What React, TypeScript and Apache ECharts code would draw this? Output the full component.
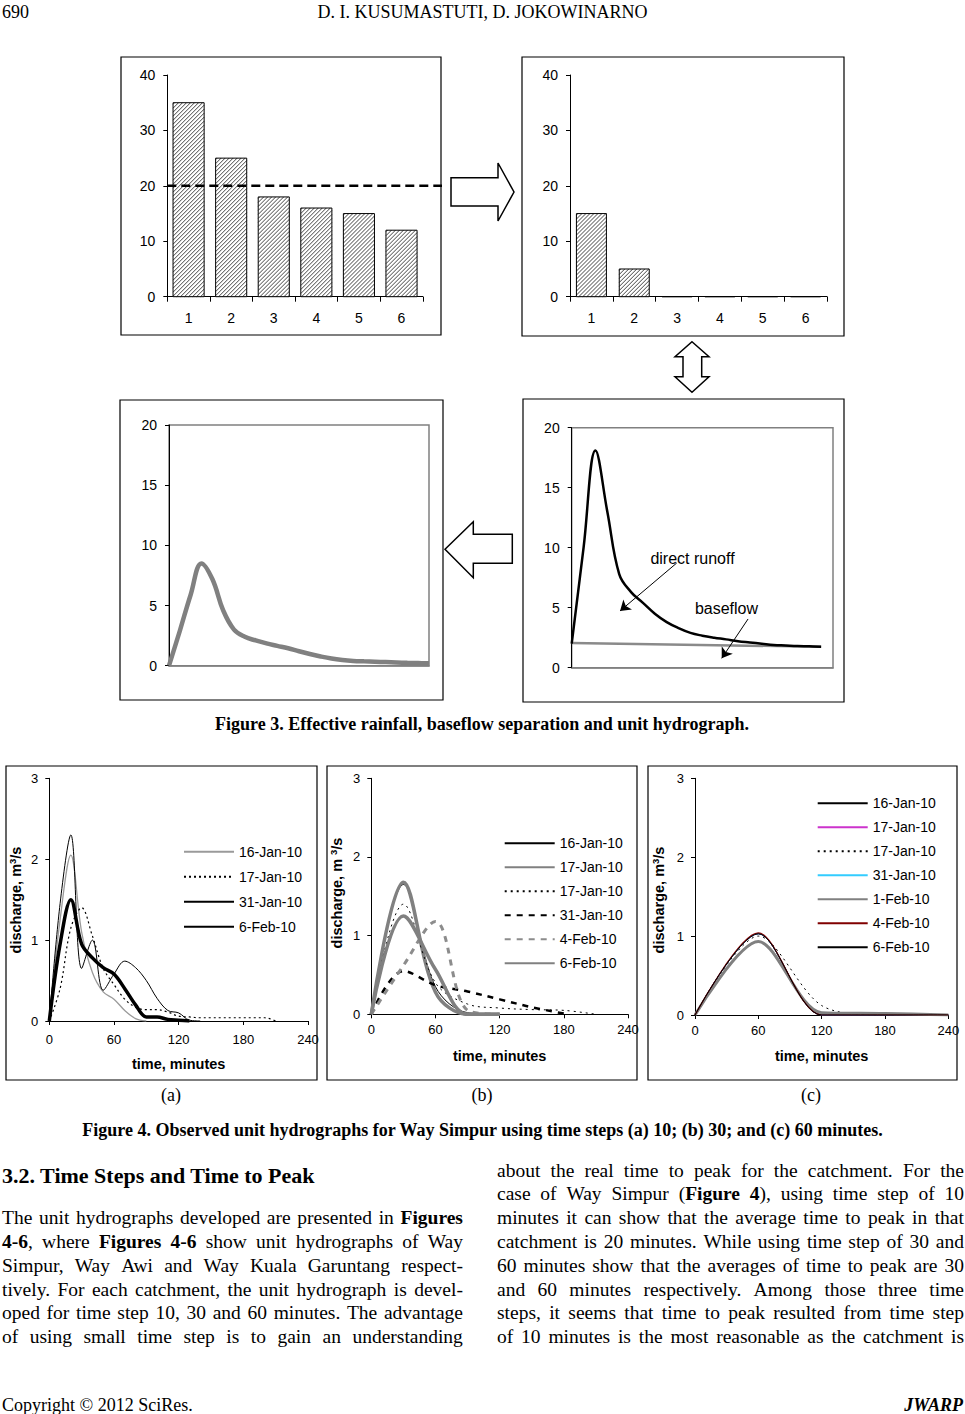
import React, { useEffect, useRef } from "react";
import * as echarts from "echarts";

// ---------------- Figure 3 data ----------------
const rainCategories = ["1", "2", "3", "4", "5", "6"];
const rainfall = [35, 25, 18, 16, 15, 12];
const phiIndexLevel = 20;
const phiIndexSpan = [0, 1];
const effectiveRainfall = [15, 5, 0, 0, 0, 0];

const uhTime = [0, 1, 2, 3, 4, 5, 6, 7, 8, 9, 10, 11, 12, 13, 14, 15, 16, 17, 18, 19, 20, 21, 22, 23, 24];
const uhOrdinates = [0, 2.9, 5.9, 8.5, 7.2, 4.6, 3.0, 2.4, 2.1, 1.85, 1.65, 1.45, 1.2, 0.97, 0.77, 0.6, 0.48, 0.4, 0.36, 0.33, 0.3, 0.27, 0.24, 0.22, 0.2];

const hydroTime = [0, 1, 2, 3, 4, 5, 6, 7, 8, 9, 10, 11, 12, 13, 14, 15, 16, 17, 18, 19, 20, 21];
const totalFlow = [2.0, 10.0, 18.1, 13.0, 7.8, 6.3, 5.4, 4.5, 3.8, 3.3, 2.9, 2.67, 2.5, 2.36, 2.2, 2.1, 2.0, 1.9, 1.85, 1.8, 1.78, 1.75];
const baseflowTime = [0, 21];
const baseflowValues = [2.05, 1.75];

const runoffArrow = [[8.84, 8.72], [4.07, 4.73]];
const baseflowArrow = [[14.85, 4.06], [12.63, 0.78]];
const annotationLabels = ["direct runoff", "baseflow"];

// ---------------- Figure 4 data ----------------
const timeTicks = [0, 60, 120, 180, 240];

const timeA = [0, 10, 20, 30, 40, 50, 60, 70, 80, 90, 100, 110, 120, 130, 140, 150, 160, 170, 180, 190, 200, 210];
const namesA = ["16-Jan-10", "17-Jan-10", "31-Jan-10", "6-Feb-10"];
const a16Jan = [0, 1.25, 2.05, 1.1, 0.6, 0.36, 0.27, 0.13, 0.03, 0];
const a17Jan = [0, 0.4, 1.15, 1.4, 1.05, 0.65, 0.45, 0.27, 0.17, 0.14, 0.14, 0.11, 0.06, 0.05, 0.04, 0.04, 0.04, 0.04, 0.04, 0.04, 0.04, 0];
const a31Jan = [0, 1.45, 2.3, 0.65, 1.0, 0.38, 0.58, 0.74, 0.66, 0.5, 0.28, 0.13, 0.1, 0.01, 0];
const a6Feb = [0, 0.95, 1.5, 0.95, 0.78, 0.66, 0.58, 0.4, 0.2, 0.05, 0.05, 0.02, 0.01, 0];

const timeB = [0, 30, 60, 90, 120, 150, 180, 210];
const namesB = ["16-Jan-10", "17-Jan-10", "17-Jan-10", "31-Jan-10", "4-Feb-10", "6-Feb-10"];
const b16Jan = [0, 1.65, 0.35, 0.02, 0];
const b17JanA = [0, 1.68, 0.28, 0, 0];
const b17JanB = [0, 1.4, 0.4, 0.13, 0.08, 0.06, 0.05, 0];
const b31Jan = [0, 0.55, 0.37, 0.29, 0.19, 0.09, 0.01];
const b4Feb = [0, 0.62, 1.18, 0.05, 0];
const b6Feb = [0, 1.25, 0.57, 0, 0];

const timeC = [0, 60, 120, 180, 240];
const namesC = ["16-Jan-10", "17-Jan-10", "17-Jan-10", "31-Jan-10", "1-Feb-10", "4-Feb-10", "6-Feb-10"];
const c16Jan = [0, 1.03, 0, 0, 0];
const c17JanA = [0, 1.03, 0, 0, 0];
const c17JanB = [0, 1.0, 0.12, 0, 0];
const c31Jan = [0, 1.03, 0, 0, 0];
const c1Feb = [0, 0.93, 0.03, 0.02, 0];
const c4Feb = [0, 1.04, 0, 0, 0];
const c6Feb = [0, 1.03, 0, 0, 0];

// ---------------- styles ----------------
const FF = "Arial, 'Liberation Sans', Helvetica, sans-serif";
const SERIF = "'Liberation Serif', 'Times New Roman', Times, serif";

const stylesA = [
  { color: "#9a9a9a", width: 1.3, type: "solid" },
  { color: "#000000", width: 1.2, type: [2, 3] },
  { color: "#000000", width: 1, type: "solid" },
  { color: "#000000", width: 3.5, type: "solid" },
];
const stylesB = [
  { color: "#000000", width: 1, type: "solid" },
  { color: "#808080", width: 3.5, type: "solid" },
  { color: "#000000", width: 1, type: [2, 4] },
  { color: "#000000", width: 2.5, type: [6, 6] },
  { color: "#8c8c8c", width: 3, type: [6, 6] },
  { color: "#808080", width: 3.5, type: "solid" },
];
const stylesC = [
  { color: "#000000", width: 1, type: "solid" },
  { color: "#cc33cc", width: 1, type: "solid" },
  { color: "#000000", width: 1, type: [2, 4] },
  { color: "#33ccff", width: 1, type: "solid" },
  { color: "#808080", width: 3, type: "solid" },
  { color: "#800000", width: 1.2, type: "solid" },
  { color: "#000000", width: 1, type: "solid" },
];

const pairs = (xs: any[], ys: number[]) => ys.map((v, i) => [xs[i], v]);

// hatched ("////") bar drawn through the axis scales
function hatchBarRenderer(widthRatio: number) {
  return (params: any, api: any) => {
    const cat = api.value(0);
    const val = api.value(1);
    const topPt = api.coord([cat, val]);
    const basePt = api.coord([cat, 0]);
    const band = api.size([1, 0])[0];
    const bw = band * widthRatio;
    const x0 = topPt[0] - bw / 2;
    const x1 = x0 + bw;
    const y0 = Math.min(topPt[1], basePt[1]);
    const y1 = Math.max(topPt[1], basePt[1]);
    const children: any[] = [
      { type: "rect", shape: { x: x0, y: y0, width: bw, height: y1 - y0 }, style: { fill: "#fff" } },
    ];
    const step = 4;
    for (let c = x0 + y0 + 1.5; c < x1 + y1; c += step) {
      const xa = Math.max(x0, c - y1);
      const xb = Math.min(x1, c - y0);
      if (xb - xa > 0.3) {
        children.push({
          type: "line",
          shape: { x1: xa, y1: c - xa, x2: xb, y2: c - xb },
          style: { stroke: "#444444", lineWidth: 1 },
        });
      }
    }
    children.push({
      type: "rect",
      shape: { x: x0, y: y0, width: bw, height: y1 - y0 },
      style: { fill: "none", stroke: "#000", lineWidth: 1 },
    });
    return { type: "group", children };
  };
}

function buildOption() {
  const blackLine = { show: true, lineStyle: { color: "#000", width: 1 } };
  const grayLine = { show: true, lineStyle: { color: "#808080", width: 1.5 } };
  const lbl14 = { fontSize: 14, color: "#000", fontFamily: FF };
  const lbl13 = { fontSize: 13, color: "#000", fontFamily: FF };

  const gridBase = { containLabel: false, outerBoundsMode: "none" };
  const grid = [
    { ...gridBase, left: 167.3, top: 75, width: 255.5, height: 221.7 },
    { ...gridBase, left: 167.3, top: 75, width: 274.7, height: 221.7 },
    { ...gridBase, left: 570, top: 75, width: 257, height: 221.7 },
    { ...gridBase, left: 169, top: 425, width: 260, height: 240.7, show: true, borderColor: "#808080", borderWidth: 1.5, backgroundColor: "transparent" },
    { ...gridBase, left: 571.7, top: 427.7, width: 261.3, height: 240, show: true, borderColor: "#808080", borderWidth: 1.5, backgroundColor: "transparent" },
    { ...gridBase, left: 49.3, top: 778.3, width: 258.7, height: 242.7 },
    { ...gridBase, left: 371.3, top: 778.3, width: 256.7, height: 236 },
    { ...gridBase, left: 695, top: 778.3, width: 253.3, height: 236.7 },
  ];

  const catX = (gi: number) => ({
    type: "category",
    gridIndex: gi,
    data: rainCategories,
    boundaryGap: true,
    axisLine: blackLine,
    axisTick: { show: true, alignWithLabel: false, interval: 0, length: 5, inside: false, lineStyle: { color: "#000" } },
    axisLabel: { ...lbl14, margin: 14, interval: 0 },
    splitLine: { show: false },
  });
  const fig3Y = (gi: number, max: number, interval: number) => ({
    type: "value",
    gridIndex: gi,
    min: 0,
    max,
    interval,
    axisLine: blackLine,
    axisTick: { show: true, length: 4, inside: false, lineStyle: { color: "#000" } },
    axisLabel: { ...lbl14, margin: 12 },
    splitLine: { show: false },
  });
  const hiddenX = (gi: number, max: number) => ({
    type: "value",
    gridIndex: gi,
    min: 0,
    max,
    axisLine: grayLine,
    axisTick: { show: false },
    axisLabel: { show: false },
    splitLine: { show: false },
  });
  const fig4X = (gi: number, gap: number, margin: number) => ({
    type: "value",
    gridIndex: gi,
    min: timeTicks[0],
    max: timeTicks[timeTicks.length - 1],
    interval: 60,
    axisLine: blackLine,
    axisTick: { show: true, length: 4, inside: false, lineStyle: { color: "#000" } },
    axisLabel: { ...lbl13, margin },
    splitLine: { show: false },
    name: "time, minutes",
    nameLocation: "middle",
    nameGap: gap,
    nameTextStyle: { fontSize: 14.5, fontWeight: "bold", color: "#000", fontFamily: FF },
  });
  const fig4Y = (gi: number) => ({
    type: "value",
    gridIndex: gi,
    min: 0,
    max: 3,
    interval: 1,
    axisLine: blackLine,
    axisTick: { show: true, length: 4, inside: false, lineStyle: { color: "#000" } },
    axisLabel: { ...lbl13, margin: 11 },
    splitLine: { show: false },
  });

  const xAxis = [
    catX(0),
    { type: "value", gridIndex: 1, min: 0, max: 1, show: false },
    catX(2),
    hiddenX(3, 24),
    hiddenX(4, 22),
    fig4X(5, 35, 12),
    fig4X(6, 34, 9),
    fig4X(7, 33, 9),
  ];
  const yAxis = [
    fig3Y(0, 40, 10),
    { type: "value", gridIndex: 1, min: 0, max: 40, show: false },
    fig3Y(2, 40, 10),
    fig3Y(3, 20, 5),
    fig3Y(4, 20, 5),
    fig4Y(5),
    fig4Y(6),
    fig4Y(7),
  ];

  const lineSeries = (id: string, name: string, ai: number, xs: number[], ys: number[], st: any, smooth = 0.35) => ({
    type: "line",
    id,
    name,
    xAxisIndex: ai,
    yAxisIndex: ai,
    data: pairs(xs, ys),
    smooth,
    symbol: "none",
    showSymbol: false,
    lineStyle: { color: st.color, width: st.width, type: st.type },
    itemStyle: { color: st.color },
    emphasis: { disabled: true },
    silent: true,
  });

  const aData = [a16Jan, a17Jan, a31Jan, a6Feb];
  const bData = [b16Jan, b17JanA, b17JanB, b31Jan, b4Feb, b6Feb];
  const cData = [c16Jan, c17JanA, c17JanB, c31Jan, c1Feb, c4Feb, c6Feb];

  const aSeries = aData.map((d, i) => lineSeries("a" + i, "a" + i + "::" + namesA[i], 5, timeA, d, stylesA[i]));
  const bSeries = bData.map((d, i) => lineSeries("b" + i, "b" + i + "::" + namesB[i], 6, timeB, d, stylesB[i]));
  const cSeries = cData.map((d, i) => lineSeries("c" + i, "c" + i + "::" + namesC[i], 7, timeC, d, stylesC[i], 0.3));

  const legendBase = {
    orient: "vertical",
    padding: 0,
    itemWidth: 50,
    itemHeight: 14,
    selectedMode: false,
    itemStyle: { opacity: 0, borderWidth: 0 },
    formatter: (n: string) => n.split("::")[1],
    textStyle: { fontSize: 14, color: "#000", fontFamily: FF },
  };

  const series: any[] = [
    {
      type: "custom",
      name: "rainfall",
      xAxisIndex: 0,
      yAxisIndex: 0,
      data: pairs(rainCategories, rainfall),
      encode: { x: 0, y: 1 },
      renderItem: hatchBarRenderer(0.73),
      clip: false,
      silent: true,
    },
    {
      type: "line",
      name: "phi",
      xAxisIndex: 1,
      yAxisIndex: 1,
      data: phiIndexSpan.map((x) => [x, phiIndexLevel]),
      symbol: "none",
      lineStyle: { color: "#000", width: 2.5, type: [9, 5] },
      silent: true,
      z: 5,
    },
    {
      type: "custom",
      name: "effective",
      xAxisIndex: 2,
      yAxisIndex: 2,
      data: pairs(rainCategories, effectiveRainfall),
      encode: { x: 0, y: 1 },
      renderItem: hatchBarRenderer(0.7),
      clip: false,
      silent: true,
    },
    {
      type: "line",
      name: "uh",
      xAxisIndex: 3,
      yAxisIndex: 3,
      data: pairs(uhTime, uhOrdinates),
      smooth: 0.4,
      symbol: "none",
      lineStyle: { color: "#808080", width: 4.5 },
      silent: true,
    },
    {
      type: "line",
      name: "baseflow",
      xAxisIndex: 4,
      yAxisIndex: 4,
      data: pairs(baseflowTime, baseflowValues),
      symbol: "none",
      lineStyle: { color: "#8a8a8a", width: 2.5 },
      silent: true,
    },
    {
      type: "line",
      name: "total",
      xAxisIndex: 4,
      yAxisIndex: 4,
      data: pairs(hydroTime, totalFlow),
      smooth: 0.4,
      symbol: "none",
      lineStyle: { color: "#000", width: 2.5 },
      silent: true,
      markLine: {
        silent: true,
        symbol: ["none", "arrow"],
        symbolSize: 10,
        label: { show: false },
        lineStyle: { color: "#000", width: 1, type: "solid" },
        emphasis: { disabled: true },
        data: [
          [{ coord: runoffArrow[0] }, { coord: runoffArrow[1] }],
          [{ coord: baseflowArrow[0] }, { coord: baseflowArrow[1] }],
        ],
      },
    },
    ...aSeries,
    ...bSeries,
    ...cSeries,
  ];

  const legend = [
    { ...legendBase, left: 183, top: 844.7, itemGap: 11, data: aSeries.map((s) => s.name) },
    { ...legendBase, left: 503.7, top: 836.3, itemGap: 10, data: bSeries.map((s) => s.name) },
    { ...legendBase, left: 816.7, top: 796.3, itemGap: 10, data: cSeries.map((s) => s.name) },
  ];

  const frame = (x1: number, y1: number, x2: number, y2: number) => ({
    type: "rect",
    silent: true,
    z: 0,
    shape: { x: x1, y: y1, width: x2 - x1, height: y2 - y1 },
    style: { fill: "none", stroke: "#000", lineWidth: 1.2 },
  });
  const bigArrow = (pts: number[][]) => ({
    type: "polygon",
    silent: true,
    z: 10,
    shape: { points: pts },
    style: { fill: "#fff", stroke: "#000", lineWidth: 1.5 },
  });
  const yName = (x: number, y: number, mid: string) => ({
    type: "text",
    silent: true,
    x,
    y,
    rotation: Math.PI / 2,
    style: {
      text: "{b|" + mid + "}{s|3}{b|/s}",
      align: "center",
      verticalAlign: "middle",
      rich: {
        b: { fontSize: 14.5, fontWeight: "bold", fontFamily: FF, fill: "#000", lineHeight: 16, verticalAlign: "bottom" },
        s: { fontSize: 9.5, fontWeight: "bold", fontFamily: FF, fill: "#000", lineHeight: 16, verticalAlign: "top", padding: [0, 0, 6, 0] },
      },
    },
  });

  const graphic = [
    frame(121, 57, 441, 335),
    frame(522, 57, 844, 336),
    frame(120, 400, 443, 700),
    frame(523, 399, 844, 702),
    frame(6, 766, 317, 1080),
    frame(327, 766, 637, 1080),
    frame(648, 766, 957, 1080),
    bigArrow([[451, 177.7], [498, 177.7], [498, 163], [514, 192], [498, 221], [498, 206], [451, 206]]),
    bigArrow([[692, 341.7], [709, 356.7], [701.7, 356.7], [701.7, 376.7], [709, 376.7], [692, 392.3], [675, 376.7], [683, 376.7], [683, 356.7], [675, 356.7]]),
    bigArrow([[445, 549.3], [473.3, 521.7], [473.3, 534.3], [512.3, 534.3], [512.3, 563.3], [473.3, 563.3], [473.3, 577.7]]),
    {
      type: "text", silent: true, x: 692.5, y: 558,
      style: { text: annotationLabels[0], fontSize: 16, fontFamily: FF, fill: "#000", align: "center", verticalAlign: "middle" },
    },
    {
      type: "text", silent: true, x: 726.5, y: 608,
      style: { text: annotationLabels[1], fontSize: 16, fontFamily: FF, fill: "#000", align: "center", verticalAlign: "middle" },
    },
    yName(15, 900, "discharge, m"),
    yName(336, 893, "discharge, m "),
    yName(658, 900, "discharge, m"),
  ];

  return {
    animation: false,
    backgroundColor: "#ffffff",
    grid,
    xAxis,
    yAxis,
    legend,
    series,
    graphic,
  };
}

// ---------------- page text ----------------
type Seg = [string, boolean?];

const leftColumnLines: Seg[][] = [
  [["The unit hydrographs developed are presented in "], ["Figures", true]],
  [["4-6", true], [", where "], ["Figures 4-6", true], [" show unit hydrographs of Way"]],
  [["Simpur, Way Awi and Way Kuala Garuntang respect-"]],
  [["tively. For each catchment, the unit hydrograph is devel-"]],
  [["oped for time step 10, 30 and 60 minutes. The advantage"]],
  [["of using small time step is to gain an understanding"]],
];
const rightColumnLines: Seg[][] = [
  [["about the real time to peak for the catchment. For the"]],
  [["case of Way Simpur ("], ["Figure 4", true], ["), using time step of 10"]],
  [["minutes it can show that the average time to peak in that"]],
  [["catchment is 20 minutes. While using time step of 30 and"]],
  [["60 minutes show that the averages of time to peak are 30"]],
  [["and 60 minutes respectively. Among those three time"]],
  [["steps, it seems that time to peak resulted from time step"]],
  [["of 10 minutes is the most reasonable as the catchment is"]],
];

function toWords(segs: Seg[]): Seg[][] {
  const words: Seg[][] = [];
  let cur: Seg[] = [];
  for (const [text, bold] of segs) {
    let buf = "";
    for (const ch of text) {
      if (ch === " ") {
        if (buf) { cur.push([buf, !!bold]); buf = ""; }
        if (cur.length) { words.push(cur); cur = []; }
      } else buf += ch;
    }
    if (buf) cur.push([buf, !!bold]);
  }
  if (cur.length) words.push(cur);
  return words;
}

let measureCtx: CanvasRenderingContext2D | null = null;
function measureText(text: string, size: number, bold: boolean): number {
  if (!measureCtx) measureCtx = document.createElement("canvas").getContext("2d");
  if (!measureCtx) return text.length * size * 0.45;
  measureCtx.font = (bold ? "bold " : "") + size + "px 'Liberation Serif', 'Times New Roman', serif";
  return measureCtx.measureText(text).width;
}

const BODY_SIZE = 19.5;

function JustLine(props: { left: number; cy: number; width: number; segs: Seg[]; size?: number }) {
  const size = props.size ?? BODY_SIZE;
  const lh = 24;
  const words = toWords(props.segs);
  const wordsWidth = words.reduce((s, w) => s + w.reduce((ss, [t, b]) => ss + measureText(t, size, !!b), 0), 0);
  const minGap = measureText(" ", size, false) * 0.9;
  const natural = wordsWidth + Math.max(0, words.length - 1) * minGap;
  const inner = Math.max(props.width, natural);
  const scale = props.width / inner;
  return (
    <div style={{ position: "absolute", left: props.left, top: props.cy - lh / 2, width: props.width, height: lh }}>
      <div
        style={{
          position: "absolute",
          left: 0,
          top: 0,
          width: inner,
          height: lh,
          display: "flex",
          justifyContent: "space-between",
          fontFamily: SERIF,
          fontSize: size,
          lineHeight: lh + "px",
          whiteSpace: "nowrap",
          color: "#000",
          transform: scale < 1 ? "scaleX(" + scale + ")" : undefined,
          transformOrigin: "0 0",
        }}
      >
        {words.map((w, i) => (
          <span key={i}>
            {w.map(([t, b], j) => (
              <span key={j} style={{ fontWeight: b ? "bold" : "normal" }}>{t}</span>
            ))}
          </span>
        ))}
      </div>
    </div>
  );
}

function Txt(props: { text: string; cy: number; left?: number; cx?: number; right?: number; size?: number; bold?: boolean; italic?: boolean }) {
  const size = props.size ?? 18;
  const lh = 24;
  const style: any = {
    position: "absolute",
    top: props.cy - lh / 2,
    height: lh,
    lineHeight: lh + "px",
    fontFamily: SERIF,
    fontSize: size,
    fontWeight: props.bold ? "bold" : "normal",
    fontStyle: props.italic ? "italic" : "normal",
    whiteSpace: "nowrap",
    color: "#000",
  };
  if (props.cx !== undefined) {
    style.left = props.cx - 480;
    style.width = 960;
    style.textAlign = "center";
  } else if (props.right !== undefined) {
    style.right = 965 - props.right;
    style.textAlign = "right";
  } else {
    style.left = props.left ?? 0;
  }
  return <div style={style}>{props.text}</div>;
}

export default function App() {
  const ref = useRef<HTMLDivElement>(null);
  useEffect(() => {
    const chart = echarts.init(ref.current!, undefined, { renderer: "svg", width: 965, height: 1414 });
    chart.setOption(buildOption() as any);
    return () => chart.dispose();
  }, []);

  const rightY0 = 1170.5;
  const pitch = 23.8;

  return (
    <div style={{ position: "absolute", left: 0, top: 0, width: 965, height: 1414, background: "#fff", overflow: "hidden" }}>
      <div ref={ref} style={{ position: "absolute", left: 0, top: 0, width: 965, height: 1414 }} />
      <Txt text="690" left={2} cy={12} />
      <Txt text="D. I. KUSUMASTUTI, D. JOKOWINARNO" cx={482.5} cy={12} />
      <Txt text="Figure 3. Effective rainfall, baseflow separation and unit hydrograph." cx={482} cy={724} bold />
      <Txt text="(a)" cx={171} cy={1095} />
      <Txt text="(b)" cx={482} cy={1095} />
      <Txt text="(c)" cx={811} cy={1095} />
      <Txt text="Figure 4. Observed unit hydrographs for Way Simpur using time steps (a) 10; (b) 30; and (c) 60 minutes." cx={482.5} cy={1130} bold />
      <Txt text="3.2. Time Steps and Time to Peak" left={2} cy={1176} size={22} bold />
      {leftColumnLines.map((segs, i) => (
        <JustLine key={"l" + i} left={2} width={461} cy={rightY0 + (i + 2) * pitch} segs={segs} />
      ))}
      {rightColumnLines.map((segs, i) => (
        <JustLine key={"r" + i} left={497} width={467} cy={rightY0 + i * pitch} segs={segs} />
      ))}
      <Txt text="Copyright © 2012 SciRes." left={2} cy={1405} />
      <Txt text="JWARP" right={963} cy={1405} bold italic />
    </div>
  );
}
